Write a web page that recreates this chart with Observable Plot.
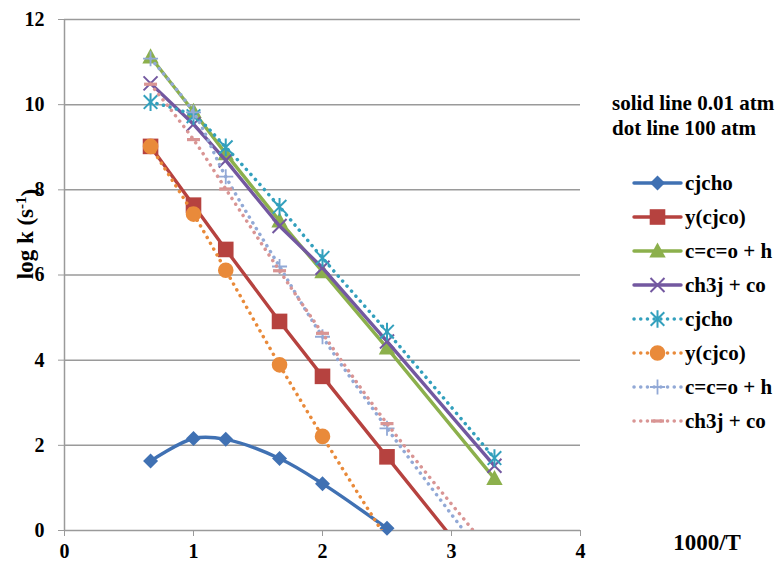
<!DOCTYPE html>
<html>
<head>
<meta charset="utf-8">
<script src="https://cdn.jsdelivr.net/npm/d3@7"></script>
<script src="https://cdn.jsdelivr.net/npm/@observablehq/plot@0.6"></script>
<style>
  html, body { margin: 0; padding: 0; background: #fff; }
  #chart svg text { font-family: "Liberation Serif", "DejaVu Serif", serif !important; font-weight: bold; }
</style>
</head>
<body>
<div id="chart"></div>
<script>
// 1000/T values shared by every series
const invT = [0.667, 1.0, 1.25, 1.667, 2.0, 2.5, 3.333];
const xTicks = [0, 1, 2, 3, 4];
const yTicks = [0, 2, 4, 6, 8, 10, 12];

// log k at 0.01 atm (solid lines)
const low_cjcho   = [1.63, 2.16, 2.14, 1.69, 1.10, 0.05];
const low_ycjco   = [9.02, 7.64, 6.60, 4.91, 3.62, 1.73, -1.41];
const low_ccoh    = [11.12, 9.84, 8.85, 7.27, 6.08, 4.29, 1.22];
const low_ch3jco  = [10.50, 9.54, 8.69, 7.15, 6.17, 4.44, 1.52];

// log k at 100 atm (dotted lines)
const high_cjcho  = [10.06, 9.73, 9.00, 7.60, 6.40, 4.67, 1.70];
const high_ycjco  = [9.02, 7.43, 6.11, 3.89, 2.21, -0.20, -4.10];
const high_ccoh   = [11.08, 9.82, 8.31, 6.20, 4.55, 2.40, -0.95];
const high_ch3jco = [10.48, 9.18, 8.02, 6.10, 4.63, 2.51, -0.60];

const seriesLabels = ["cjcho", "y(cjco)", "c=c=o + h", "ch3j + co",
                      "cjcho", "y(cjco)", "c=c=o + h", "ch3j + co"];
const legendTitle = ["solid line 0.01 atm", "dot line 100 atm"];
const xTitle = "1000/T";

const FONT = "\"Liberation Serif\", \"DejaVu Serif\", serif";

// marker shapes, sized by half-extent r
const shapes = {
  diamond(c, r) { c.moveTo(0, -r); c.lineTo(r, 0); c.lineTo(0, r); c.lineTo(-r, 0); c.closePath(); },
  square(c, r) { c.rect(-r, -r, 2 * r, 2 * r); },
  triangle(c, r) { c.moveTo(0, -r * 1.05); c.lineTo(r, r * 0.8); c.lineTo(-r, r * 0.8); c.closePath(); },
  times(c, r) { c.moveTo(-r, -r); c.lineTo(r, r); c.moveTo(-r, r); c.lineTo(r, -r); },
  asterisk(c, r) { c.moveTo(-r, -r); c.lineTo(r, r); c.moveTo(-r, r); c.lineTo(r, -r); c.moveTo(0, -r * 1.3); c.lineTo(0, r * 1.3); },
  circle(c, r) { c.moveTo(r, 0); c.arc(0, 0, r, 0, 2 * Math.PI); },
  plus(c, r) { c.moveTo(-r, 0); c.lineTo(r, 0); c.moveTo(0, -r); c.lineTo(0, r); },
  dash(c, r) { c.rect(-r, -1.6, 2 * r, 3.2); }
};
const symbolOf = name => ({ draw(c, size) { shapes[name](c, Math.sqrt(size / Math.PI)); } });

const series = [
  { values: low_cjcho,   color: "#4071b3", dotted: false, shape: "diamond",  r: 7.5, filled: true,  curve: "catmull-rom", clip: false },
  { values: low_ycjco,   color: "#b6423f", dotted: false, shape: "square",   r: 7.8, filled: true,  curve: "linear",      clip: true },
  { values: low_ccoh,    color: "#8cb04c", dotted: false, shape: "triangle", r: 8.2, filled: true,  curve: "linear",      clip: true },
  { values: low_ch3jco,  color: "#7358a0", dotted: false, shape: "times",    r: 7,   filled: false, curve: "linear",      clip: true, sw: 2 },
  { values: high_cjcho,  color: "#33a0bd", dotted: true,  shape: "asterisk", r: 6.8, filled: false, curve: "catmull-rom", clip: true, sw: 2 },
  { values: high_ycjco,  color: "#e98a3a", dotted: true,  shape: "circle",   r: 7.8, filled: true,  curve: "catmull-rom", clip: true },
  { values: high_ccoh,   color: "#92a9d6", dotted: true,  shape: "plus",     r: 7.5, filled: false, curve: "catmull-rom", clip: true, sw: 1.8 },
  { values: high_ch3jco, color: "#d99594", dotted: true,  shape: "dash",     r: 6.5, filled: true,  curve: "catmull-rom", clip: true }
];

const lineStyle = s => s.dotted
  ? { strokeWidth: 3.5, strokeDasharray: "0.1,6.6", strokeLinecap: "round" }
  : { strokeWidth: 3.4, strokeLinecap: "round", strokeLinejoin: "round" };

const marks = [
  Plot.gridY(yTicks, { stroke: "#9a9a9a", strokeOpacity: 1, strokeWidth: 1.5 }),
  Plot.ruleX([0], { stroke: "#9a9a9a", strokeWidth: 1.5 }),
  Plot.axisY(yTicks, { tickSize: 6, tickPadding: 14, tickFormat: d => String(d), label: null, stroke: "#9a9a9a", fill: "black" }),
  Plot.axisX(xTicks, { tickSize: 6, tickPadding: 7, tickFormat: d => String(d), label: null, stroke: "#9a9a9a", fill: "black" })
];

for (const s of series) {
  const data = s.values.map((v, i) => ({ x: invT[i], y: v }));
  marks.push(Plot.line(data, { x: "x", y: "y", stroke: s.color, curve: s.curve, clip: true, ...lineStyle(s) }));
  marks.push(Plot.dot(data, {
    x: "x", y: "y", symbol: symbolOf(s.shape), r: s.r,
    fill: s.filled ? s.color : "none",
    stroke: s.filled ? "none" : s.color,
    strokeWidth: s.sw || 1,
    clip: s.clip
  }));
}

const svgNode = Plot.plot({
  width: 778,
  height: 563,
  marginLeft: 64,
  marginRight: 198,
  marginTop: 19,
  marginBottom: 33,
  x: { domain: [0, 4] },
  y: { domain: [0, 12] },
  style: { fontFamily: FONT, fontSize: "20px", fontWeight: "bold", color: "black", background: "white", overflow: "visible" },
  marks
});
document.getElementById("chart").appendChild(svgNode);

const svg = d3.select(svgNode);

// vertical axis title with superscript
const yt = svg.append("text")
  .attr("transform", "translate(33,234) rotate(-90)")
  .attr("text-anchor", "middle")
  .style("font-size", "23px")
  .attr("fill", "black");
yt.append("tspan").text("log k (s");
yt.append("tspan").attr("dy", "-0.45em").style("font-size", "15px").text("-1");
yt.append("tspan").attr("dy", "0.45em").text(")");

// horizontal axis title
svg.append("text")
  .attr("x", 707).attr("y", 550)
  .attr("text-anchor", "middle")
  .style("font-size", "23px")
  .attr("fill", "black")
  .text(xTitle);

// legend
const lg = svg.append("g")
  .attr("text-anchor", "start")
  .style("font-size", "21px");
legendTitle.forEach((t, i) => {
  lg.append("text").attr("x", 612).attr("y", 110 + i * 25).attr("fill", "black").text(t);
});
series.forEach((s, i) => {
  const y = 183 + i * 34;
  const st = lineStyle(s);
  lg.append("line")
    .attr("x1", 634).attr("x2", 681).attr("y1", y).attr("y2", y)
    .attr("stroke", s.color)
    .attr("stroke-width", st.strokeWidth)
    .attr("stroke-dasharray", st.strokeDasharray || null)
    .attr("stroke-linecap", "round");
  lg.append("path")
    .attr("transform", `translate(657.5,${y})`)
    .attr("d", d3.symbol(symbolOf(s.shape), Math.PI * s.r * s.r)())
    .attr("fill", s.filled ? s.color : "none")
    .attr("stroke", s.filled ? "none" : s.color)
    .attr("stroke-width", s.sw || 1);
  lg.append("text")
    .attr("x", 685).attr("y", y).attr("dy", "0.32em")
    .attr("fill", "black")
    .text(seriesLabels[i]);
});
</script>
</body>
</html>
